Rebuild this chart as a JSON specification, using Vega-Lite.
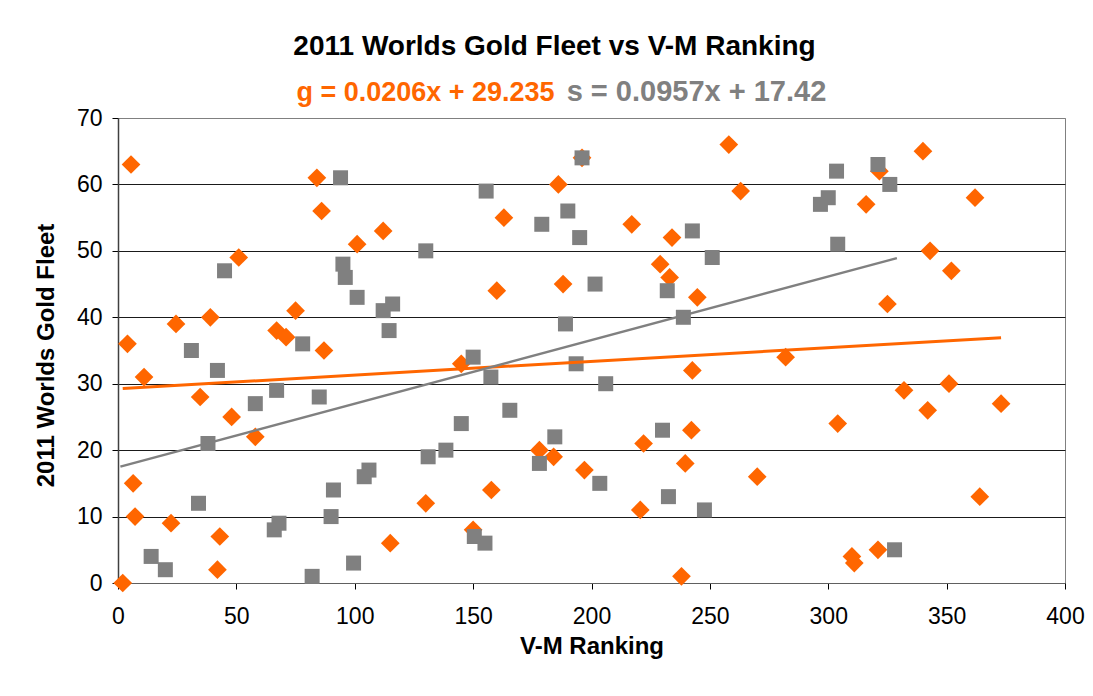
{
  "$schema": "https://vega.github.io/schema/vega-lite/v6.json",
  "width": 947,
  "height": 465,
  "autosize": {"type": "none"},
  "padding": {"left": 118, "top": 118, "right": 28, "bottom": 113},
  "background": "white",
  "config": {
    "font": "Liberation Sans",
    "view": {"stroke": "#808080", "strokeWidth": 1}
  },
  "title": {
    "text": "2011 Worlds Gold Fleet vs V-M Ranking",
    "font": "Liberation Sans",
    "fontSize": 28,
    "fontWeight": "bold",
    "color": "#000000",
    "anchor": "middle",
    "dx": -37,
    "offset": 16
  },
  "datasets": {
    "points": [
      {"series": "g", "rank": 2, "fleet": 0},
      {"series": "g", "rank": 5.5, "fleet": 63},
      {"series": "g", "rank": 4, "fleet": 36},
      {"series": "g", "rank": 6.4, "fleet": 15},
      {"series": "g", "rank": 7.2, "fleet": 10},
      {"series": "g", "rank": 11, "fleet": 31},
      {"series": "g", "rank": 22.4, "fleet": 9},
      {"series": "g", "rank": 24.5, "fleet": 39},
      {"series": "g", "rank": 34.7, "fleet": 28},
      {"series": "g", "rank": 39, "fleet": 40},
      {"series": "g", "rank": 43, "fleet": 7},
      {"series": "g", "rank": 42, "fleet": 2},
      {"series": "g", "rank": 48, "fleet": 25},
      {"series": "g", "rank": 51, "fleet": 49},
      {"series": "g", "rank": 58, "fleet": 22},
      {"series": "g", "rank": 67, "fleet": 38},
      {"series": "g", "rank": 71, "fleet": 37},
      {"series": "g", "rank": 75, "fleet": 41},
      {"series": "g", "rank": 84, "fleet": 61},
      {"series": "g", "rank": 86, "fleet": 56},
      {"series": "g", "rank": 87, "fleet": 35},
      {"series": "g", "rank": 101, "fleet": 51},
      {"series": "g", "rank": 112, "fleet": 53},
      {"series": "g", "rank": 115, "fleet": 6},
      {"series": "g", "rank": 130, "fleet": 12},
      {"series": "g", "rank": 145, "fleet": 33},
      {"series": "g", "rank": 150, "fleet": 8},
      {"series": "g", "rank": 157.7, "fleet": 14},
      {"series": "g", "rank": 160, "fleet": 44},
      {"series": "g", "rank": 163, "fleet": 55},
      {"series": "g", "rank": 178, "fleet": 20},
      {"series": "g", "rank": 184, "fleet": 19},
      {"series": "g", "rank": 186, "fleet": 60},
      {"series": "g", "rank": 188, "fleet": 45},
      {"series": "g", "rank": 196, "fleet": 64},
      {"series": "g", "rank": 197, "fleet": 17},
      {"series": "g", "rank": 217, "fleet": 54},
      {"series": "g", "rank": 220.6, "fleet": 11},
      {"series": "g", "rank": 222, "fleet": 21},
      {"series": "g", "rank": 229, "fleet": 48},
      {"series": "g", "rank": 233, "fleet": 46},
      {"series": "g", "rank": 234, "fleet": 52},
      {"series": "g", "rank": 242.6, "fleet": 32},
      {"series": "g", "rank": 242.2, "fleet": 23},
      {"series": "g", "rank": 244.7, "fleet": 43},
      {"series": "g", "rank": 239.6, "fleet": 18},
      {"series": "g", "rank": 238, "fleet": 1},
      {"series": "g", "rank": 258, "fleet": 66},
      {"series": "g", "rank": 263, "fleet": 59},
      {"series": "g", "rank": 270, "fleet": 16},
      {"series": "g", "rank": 282, "fleet": 34},
      {"series": "g", "rank": 304, "fleet": 24},
      {"series": "g", "rank": 310, "fleet": 4},
      {"series": "g", "rank": 311, "fleet": 3},
      {"series": "g", "rank": 316, "fleet": 57},
      {"series": "g", "rank": 321, "fleet": 5},
      {"series": "g", "rank": 321.6, "fleet": 62},
      {"series": "g", "rank": 325, "fleet": 42},
      {"series": "g", "rank": 332, "fleet": 29},
      {"series": "g", "rank": 340, "fleet": 65},
      {"series": "g", "rank": 342, "fleet": 26},
      {"series": "g", "rank": 343, "fleet": 50},
      {"series": "g", "rank": 351, "fleet": 30},
      {"series": "g", "rank": 352, "fleet": 47},
      {"series": "g", "rank": 362, "fleet": 58},
      {"series": "g", "rank": 364, "fleet": 13},
      {"series": "g", "rank": 373, "fleet": 27},
      {"series": "s", "rank": 14, "fleet": 4},
      {"series": "s", "rank": 20, "fleet": 2},
      {"series": "s", "rank": 31, "fleet": 35},
      {"series": "s", "rank": 34, "fleet": 12},
      {"series": "s", "rank": 38, "fleet": 21},
      {"series": "s", "rank": 42, "fleet": 32},
      {"series": "s", "rank": 45, "fleet": 47},
      {"series": "s", "rank": 58, "fleet": 27},
      {"series": "s", "rank": 66, "fleet": 8},
      {"series": "s", "rank": 68, "fleet": 9},
      {"series": "s", "rank": 67, "fleet": 29},
      {"series": "s", "rank": 78, "fleet": 36},
      {"series": "s", "rank": 82, "fleet": 1},
      {"series": "s", "rank": 85, "fleet": 28},
      {"series": "s", "rank": 90, "fleet": 10},
      {"series": "s", "rank": 91, "fleet": 14},
      {"series": "s", "rank": 94, "fleet": 61},
      {"series": "s", "rank": 95, "fleet": 48},
      {"series": "s", "rank": 96, "fleet": 46},
      {"series": "s", "rank": 99.5, "fleet": 3},
      {"series": "s", "rank": 101, "fleet": 43},
      {"series": "s", "rank": 104, "fleet": 16},
      {"series": "s", "rank": 106, "fleet": 17},
      {"series": "s", "rank": 112, "fleet": 41},
      {"series": "s", "rank": 114.5, "fleet": 38},
      {"series": "s", "rank": 116, "fleet": 42},
      {"series": "s", "rank": 130, "fleet": 50},
      {"series": "s", "rank": 131, "fleet": 19},
      {"series": "s", "rank": 138.5, "fleet": 20},
      {"series": "s", "rank": 145, "fleet": 24},
      {"series": "s", "rank": 150, "fleet": 34},
      {"series": "s", "rank": 150.5, "fleet": 7},
      {"series": "s", "rank": 155, "fleet": 6},
      {"series": "s", "rank": 155.5, "fleet": 59},
      {"series": "s", "rank": 157.5, "fleet": 31},
      {"series": "s", "rank": 165.5, "fleet": 26},
      {"series": "s", "rank": 178, "fleet": 18},
      {"series": "s", "rank": 179, "fleet": 54},
      {"series": "s", "rank": 184.5, "fleet": 22},
      {"series": "s", "rank": 189, "fleet": 39},
      {"series": "s", "rank": 190, "fleet": 56},
      {"series": "s", "rank": 193.5, "fleet": 33},
      {"series": "s", "rank": 195, "fleet": 52},
      {"series": "s", "rank": 196, "fleet": 64},
      {"series": "s", "rank": 201.5, "fleet": 45},
      {"series": "s", "rank": 203.5, "fleet": 15},
      {"series": "s", "rank": 206, "fleet": 30},
      {"series": "s", "rank": 230, "fleet": 23},
      {"series": "s", "rank": 232, "fleet": 44},
      {"series": "s", "rank": 232.5, "fleet": 13},
      {"series": "s", "rank": 238.8, "fleet": 40},
      {"series": "s", "rank": 242.6, "fleet": 53},
      {"series": "s", "rank": 247.7, "fleet": 11},
      {"series": "s", "rank": 251, "fleet": 49},
      {"series": "s", "rank": 296.7, "fleet": 57},
      {"series": "s", "rank": 300, "fleet": 58},
      {"series": "s", "rank": 303.5, "fleet": 62},
      {"series": "s", "rank": 304, "fleet": 51},
      {"series": "s", "rank": 321, "fleet": 63},
      {"series": "s", "rank": 326, "fleet": 60},
      {"series": "s", "rank": 328, "fleet": 5}
    ],
    "trend": [
      {"series": "g", "rank": 2, "fleet": 29.28},
      {"series": "g", "rank": 373, "fleet": 36.92},
      {"series": "s", "rank": 1, "fleet": 17.52},
      {"series": "s", "rank": 329, "fleet": 48.91}
    ]
  },
  "layer": [
    {
      "data": {"name": "points"},
      "transform": [{"filter": "datum.series == 'g'"}],
      "mark": {"type": "point", "shape": "diamond", "filled": true, "size": 350, "color": "#FF6600", "opacity": 1, "strokeWidth": 0},
      "encoding": {
        "x": {
          "field": "rank", "type": "quantitative",
          "scale": {"domain": [0, 400], "nice": false, "zero": false},
          "axis": {
            "orient": "bottom",
            "values": [0, 50, 100, 150, 200, 250, 300, 350, 400],
            "grid": false,
            "domainColor": "#606060", "domainWidth": 1,
            "tickColor": "#000000", "tickSize": 6, "tickWidth": 1,
            "labelFont": "Liberation Sans", "labelFontSize": 23, "labelColor": "#000000",
            "labelPadding": 16, "labelFlush": false, "labelOverlap": false,
            "title": "V-M Ranking",
            "titleFont": "Liberation Sans", "titleFontSize": 24, "titleFontWeight": "bold", "titleColor": "#000000",
            "titleX": 473.5, "titleY": 70, "titleAlign": "center", "titleBaseline": "alphabetic"
          }
        },
        "y": {
          "field": "fleet", "type": "quantitative",
          "scale": {"domain": [0, 70], "nice": false},
          "axis": {
            "orient": "left",
            "values": [0, 10, 20, 30, 40, 50, 60, 70],
            "grid": true,
            "gridColor": {"condition": {"test": "datum.value == 70", "value": "#808080"}, "value": "#1a1a1a"},
            "gridWidth": 1,
            "domainColor": "#404040", "domainWidth": 1.5,
            "tickColor": "#000000", "tickSize": 6, "tickWidth": 1,
            "labelFont": "Liberation Sans", "labelFontSize": 23, "labelColor": "#000000",
            "labelPadding": 10, "labelFlush": false, "labelOverlap": false,
            "title": "2011 Worlds Gold Fleet",
            "titleFont": "Liberation Sans", "titleFontSize": 24, "titleFontWeight": "bold", "titleColor": "#000000",
            "titleX": -65, "titleY": 237, "titleAngle": 270, "titleAlign": "center", "titleBaseline": "alphabetic"
          }
        }
      }
    },
    {
      "data": {"name": "points"},
      "transform": [{"filter": "datum.series == 's'"}],
      "mark": {"type": "point", "shape": "square", "filled": true, "size": 225, "color": "#808080", "opacity": 1, "strokeWidth": 0},
      "encoding": {
        "x": {"field": "rank", "type": "quantitative", "axis": null},
        "y": {"field": "fleet", "type": "quantitative", "axis": null}
      }
    },
    {
      "data": {"name": "trend"},
      "transform": [{"filter": "datum.series == 'g'"}],
      "mark": {"type": "line", "color": "#FF6600", "strokeWidth": 3},
      "encoding": {
        "x": {
          "field": "rank", "type": "quantitative",
          "axis": {
            "orient": "top", "domain": false, "ticks": false, "labels": false, "grid": false,
            "title": "s = 0.0957x + 17.42",
            "titleFont": "Liberation Sans", "titleFontSize": 29, "titleFontWeight": "bold", "titleColor": "#808080",
            "titleX": 578, "titleY": -18, "titleAlign": "center", "titleBaseline": "alphabetic", "titleAngle": 0
          }
        },
        "y": {
          "field": "fleet", "type": "quantitative",
          "axis": {
            "orient": "right", "domain": false, "ticks": false, "labels": false, "grid": false,
            "title": "g = 0.0206x + 29.235",
            "titleFont": "Liberation Sans", "titleFontSize": 27, "titleFontWeight": "bold", "titleColor": "#FF6600",
            "titleX": -640, "titleY": -18, "titleAlign": "center", "titleBaseline": "alphabetic", "titleAngle": 0
          }
        }
      }
    },
    {
      "data": {"name": "trend"},
      "transform": [{"filter": "datum.series == 's'"}],
      "mark": {"type": "line", "color": "#808080", "strokeWidth": 2.5},
      "encoding": {
        "x": {"field": "rank", "type": "quantitative", "axis": null},
        "y": {"field": "fleet", "type": "quantitative", "axis": null}
      }
    }
  ],
  "resolve": {"axis": {"x": "independent", "y": "independent"}}
}
